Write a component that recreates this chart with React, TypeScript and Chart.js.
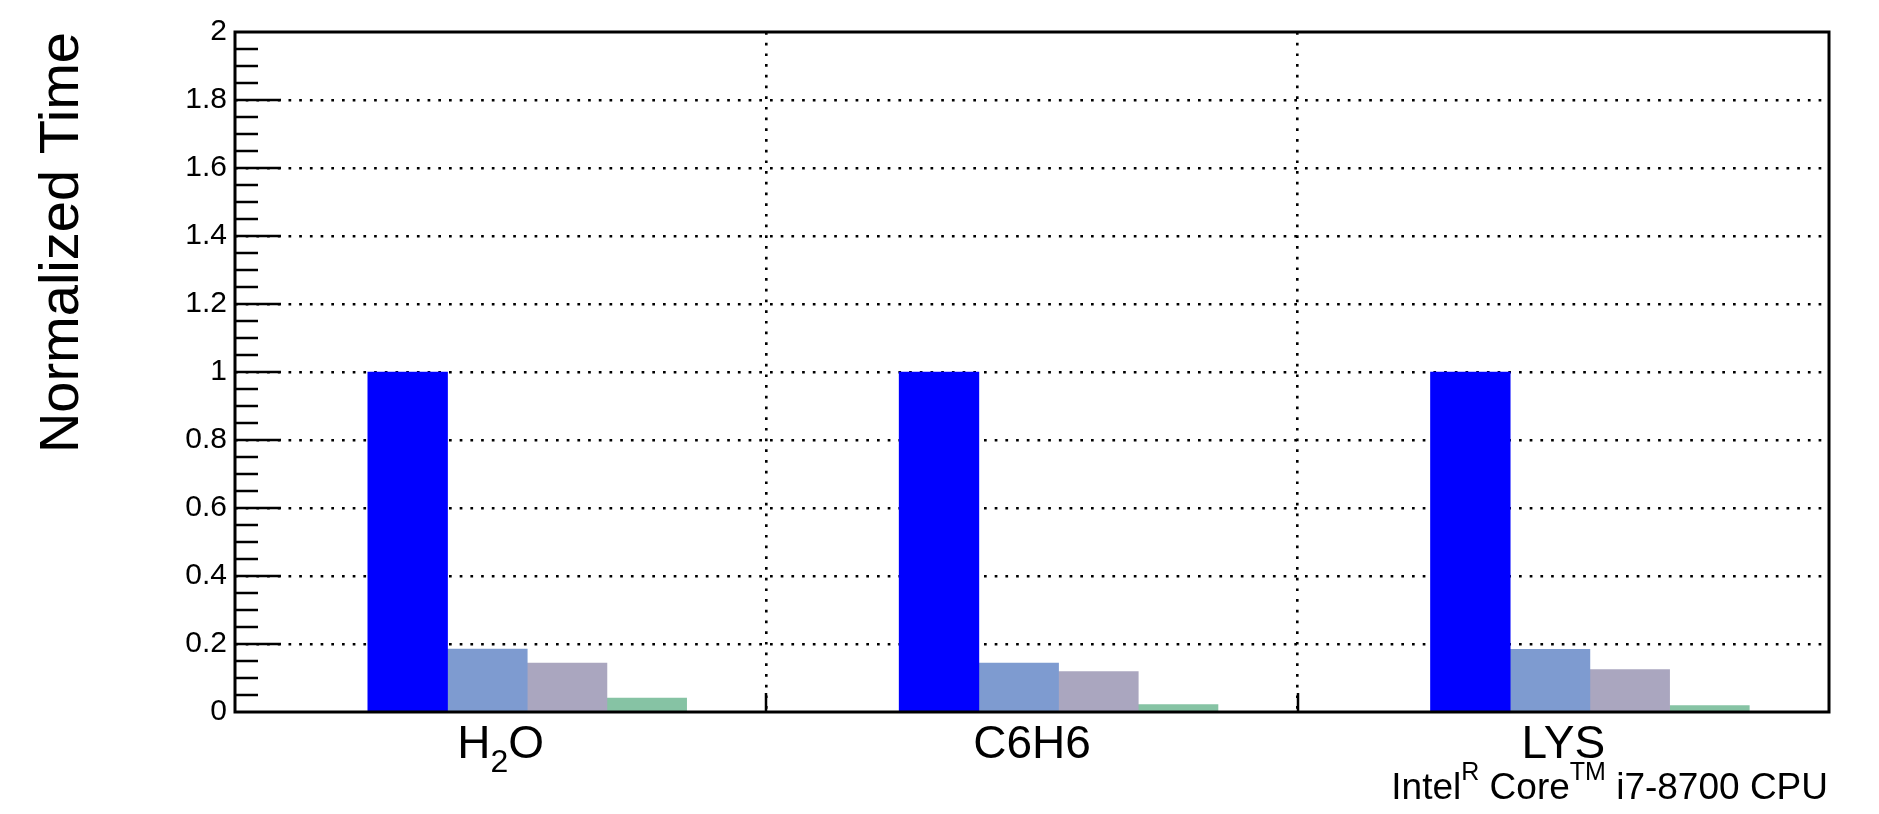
import React, { useEffect, useRef } from 'react';
import { Chart, registerables } from 'chart.js';

Chart.register(...registerables);

// ---------------- data ----------------
const categories = ['H₂O', 'C6H6', 'LYS'];
const seriesNames = ['Series 1', 'Series 2', 'Series 3', 'Series 4'];
const series1 = [1.0, 1.0, 1.0];
const series2 = [0.185, 0.144, 0.184];
const series3 = [0.144, 0.119, 0.125];
const series4 = [0.041, 0.022, 0.019];
const seriesColors = ['#0000ff', '#7e9bd0', '#aaa6bf', '#86c3a4'];

const yTitle = 'Normalized Time';
const cpuLabelParts = [
  { text: 'Intel', sup: false },
  { text: 'R', sup: true },
  { text: ' Core', sup: false },
  { text: 'TM', sup: true },
  { text: ' i7-8700 CPU', sup: false },
];

const yMin = 0;
const yMax = 2;
const yMajorStep = 0.2;
const yMinorStep = 0.05;

// layout constants (fractions of one category slot)
const groupOffset = 0.25;
const barSlot = 0.15;

const FONT = '"Liberation Sans", Arial, Helvetica, sans-serif';

type Part = { text: string; size: number; dy: number };

function drawRich(ctx: CanvasRenderingContext2D, parts: Part[], x: number, baseline: number, align: 'left' | 'center' | 'right') {
  let total = 0;
  const widths: number[] = [];
  for (const p of parts) {
    ctx.font = `${p.size}px ${FONT}`;
    const w = ctx.measureText(p.text).width;
    widths.push(w);
    total += w;
  }
  let cx = align === 'center' ? x - total / 2 : align === 'right' ? x - total : x;
  ctx.textAlign = 'left';
  ctx.textBaseline = 'alphabetic';
  parts.forEach((p, i) => {
    ctx.font = `${p.size}px ${FONT}`;
    ctx.fillText(p.text, cx, baseline + p.dy);
    cx += widths[i];
  });
}

const SUBS = '₀₁₂₃₄₅₆₇₈₉';
function categoryParts(label: string, size: number, subSize: number, subDy: number): Part[] {
  const parts: Part[] = [];
  let buf = '';
  for (const ch of label) {
    const k = SUBS.indexOf(ch);
    if (k >= 0) {
      if (buf) parts.push({ text: buf, size, dy: 0 });
      buf = '';
      parts.push({ text: String(k), size: subSize, dy: subDy });
    } else {
      buf += ch;
    }
  }
  if (buf) parts.push({ text: buf, size, dy: 0 });
  return parts;
}

const rootStylePlugin = {
  id: 'rootStyle',
  afterDraw(chart: any) {
    const ctx: CanvasRenderingContext2D = chart.ctx;
    const { left, right, top, bottom } = chart.chartArea;
    const ys = chart.scales.y;
    const xs = chart.scales.x;
    ctx.save();
    ctx.strokeStyle = '#000';
    ctx.fillStyle = '#000';
    ctx.setLineDash([]);

    // y-axis tick marks (inside the frame)
    ctx.lineWidth = 2.5;
    const nMinor = Math.round((yMax - yMin) / yMinorStep);
    const perMajor = Math.round(yMajorStep / yMinorStep);
    for (let k = 1; k < nMinor; k++) {
      const v = yMin + k * yMinorStep;
      const py = Math.round(ys.getPixelForValue(v));
      const len = k % perMajor === 0 ? 46 : 23;
      ctx.beginPath();
      ctx.moveTo(left, py);
      ctx.lineTo(left + len, py);
      ctx.stroke();
    }

    // x-axis tick marks at category boundaries
    for (let i = 1; i < categories.length; i++) {
      const px = Math.round(xs.getPixelForValue(i));
      ctx.beginPath();
      ctx.moveTo(px, bottom);
      ctx.lineTo(px, bottom - 19);
      ctx.stroke();
    }

    // frame
    ctx.lineWidth = 3;
    ctx.strokeRect(left, top, right - left, bottom - top);

    // category labels
    categories.forEach((c, i) => {
      const cxp = xs.getPixelForValue(i + 0.5);
      drawRich(ctx, categoryParts(c, 46, 32, 14), cxp, bottom + 46, 'center');
    });

    // CPU label
    drawRich(
      ctx,
      cpuLabelParts.map((p) => ({ text: p.text, size: p.sup ? 25 : 37, dy: p.sup ? -19 : 0 })),
      right - 1,
      bottom + 87,
      'right'
    );

    // y-axis title
    ctx.save();
    ctx.translate(78, top);
    ctx.rotate(-Math.PI / 2);
    ctx.font = `56px ${FONT}`;
    ctx.textAlign = 'right';
    ctx.textBaseline = 'alphabetic';
    ctx.fillText(yTitle, 0, 0);
    ctx.restore();

    ctx.restore();
  },
};

export default function App() {
  const ref = useRef<HTMLCanvasElement>(null);

  useEffect(() => {
    const canvas = ref.current;
    if (!canvas) return;
    const seriesList = [series1, series2, series3, series4];
    const datasets = seriesList.map((vals, s) => ({
      label: seriesNames[s],
      data: vals.map((v, i) => ({ x: i + groupOffset + barSlot * (s + 0.5), y: v })),
      backgroundColor: seriesColors[s],
      borderWidth: 0,
      grouped: false,
      categoryPercentage: 1,
      barPercentage: 1,
    }));

    const gridDash = [2.7, 8];
    const chart = new Chart(canvas, {
      type: 'bar',
      data: { datasets } as any,
      plugins: [rootStylePlugin],
      options: {
        animation: false,
        responsive: false,
        devicePixelRatio: 1,
        layout: { padding: { left: 0, top: 32, right: 50, bottom: 102 } },
        plugins: {
          legend: { display: false },
          tooltip: { enabled: false },
        },
        scales: {
          x: {
            type: 'linear',
            min: 0,
            max: categories.length,
            offset: false,
            ticks: { display: false, stepSize: 1 },
            grid: {
              offset: false,
              drawTicks: false,
              lineWidth: 2.6,
              color: (c: any) =>
                c.tick && (c.tick.value <= 0 || c.tick.value >= categories.length) ? 'rgba(0,0,0,0)' : '#000',
            },
            border: { display: false, dash: gridDash },
            afterFit: (scale: any) => {
              scale.height = 0;
            },
          },
          y: {
            type: 'linear',
            min: yMin,
            max: yMax,
            ticks: {
              stepSize: yMajorStep,
              padding: 8,
              color: '#000',
              font: { family: FONT, size: 30 },
              callback: (v: any) => String(Number(Number(v).toFixed(2))),
            },
            grid: {
              drawTicks: false,
              lineWidth: 2.6,
              color: (c: any) =>
                c.tick && (Math.abs(c.tick.value - yMin) < 1e-9 || Math.abs(c.tick.value - yMax) < 1e-9)
                  ? 'rgba(0,0,0,0)'
                  : '#000',
            },
            border: { display: false, dash: gridDash },
            afterFit: (scale: any) => {
              scale.width = 235;
            },
          },
        },
      } as any,
    });
    return () => chart.destroy();
  }, []);

  return (
    <div style={{ position: 'absolute', left: 0, top: 0, width: 1879, height: 814, background: '#fff' }}>
      <canvas ref={ref} width={1879} height={814} style={{ display: 'block' }} />
    </div>
  );
}
